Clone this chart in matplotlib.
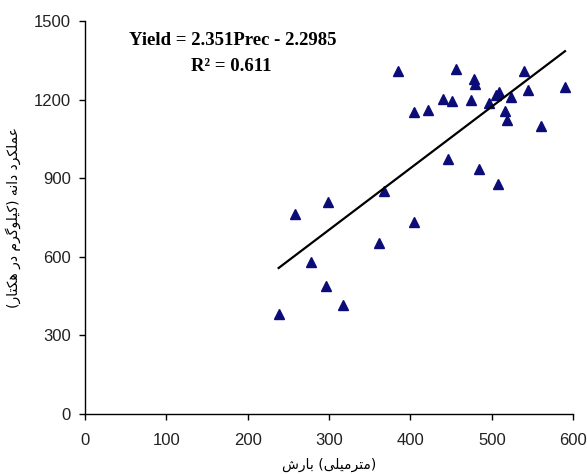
import matplotlib.pyplot as plt
import numpy as np

# precipitation (mm) and grain yield (kg/ha)
prec = [238, 258, 278, 296, 299, 317, 361, 368, 385, 405, 405, 421, 440, 446,
        451, 456, 474, 478, 479, 484, 496, 505, 509, 508, 523, 516, 519, 539,
        544, 560, 590]
grain_yield = [381, 763, 581, 489, 809, 415, 651, 852, 1309, 1151, 734, 1160,
               1202, 974, 1193, 1315, 1198, 1279, 1258, 935, 1186, 1217, 1230,
               877, 1211, 1156, 1122, 1310, 1237, 1099, 1249]

slope = 2.351
intercept = -2.2985
r2 = 0.611

x_ticks = [0, 100, 200, 300, 400, 500, 600]
y_ticks = [0, 300, 600, 900, 1200, 1500]

# persian labels, written with presentation forms in visual order
# (matplotlib does no arabic shaping on its own)
def vis(*codes):
    return ''.join(chr(c) for c in codes)

amalkard = vis(0xFEA9, 0xFEAE, 0xFB91, 0xFEE0, 0xFEE4, 0xFECB)
daneh = vis(0xFEEA, 0xFEE7, 0xFE8D, 0xFEA9)
kilogram = vis(0xFEE1, 0xFEAE, 0xFB94, 0xFEEE, 0xFEE0, 0xFEF4, 0xFB90)
dar = vis(0xFEAD, 0xFEA9)
hektar = vis(0xFEAD, 0xFE8E, 0xFE98, 0xFB91, 0xFEEB)
baresh = vis(0xFEB5, 0xFEAD, 0xFE8E, 0xFE91)
mili = vis(0xFEF0, 0xFEE0, 0xFEF4, 0xFEE3)
metr = vis(0xFEAE, 0xFE98, 0xFEE3)

ylabel = '(' + hektar + ' ' + dar + ' ' + kilogram + ') ' + daneh + ' ' + amalkard
xlabel = baresh + ' (' + mili + metr + ')'

tick_font = ['Liberation Sans Narrow', 'Liberation Sans', 'DejaVu Sans']

fig = plt.figure(figsize=(5.87, 4.74), dpi=100)
ax = fig.add_axes([0.1448, 0.1266, 0.8316, 0.8291])

ax.plot(prec, grain_yield, linestyle='none', marker='^', ms=6.5,
        color='#0c0c78', mec='#0c0c78')

xf = np.array([min(prec), max(prec)])
ax.plot(xf, slope * xf + intercept, color='black', lw=1.6)

ax.set_xlim(0, 600)
ax.set_ylim(0, 1500)
ax.set_xticks(x_ticks)
ax.set_yticks(y_ticks)
ax.set_xticklabels([str(t) for t in x_ticks], family=tick_font, fontsize=12)
ax.set_yticklabels([str(t) for t in y_ticks], family=tick_font, fontsize=12)
ax.tick_params(direction='out', length=4, width=1, labelcolor='#222222')
ax.tick_params(axis='x', pad=10)
ax.tick_params(axis='y', pad=6)

for s in ['top', 'right']:
    ax.spines[s].set_visible(False)
for s in ['left', 'bottom']:
    ax.spines[s].set_linewidth(1.0)

ax.set_xlabel(xlabel, family='DejaVu Sans', fontsize=10, labelpad=7)
ax.set_ylabel(ylabel, family='DejaVu Sans', fontsize=10, labelpad=9)

ax.text(182, 1427, 'Yield = 2.351Prec - 2.2985', family='Liberation Serif',
        fontweight='bold', fontsize=13.5, ha='center', va='center')
ax.text(180, 1328, 'R² = %.3f' % r2, family='Liberation Serif',
        fontweight='bold', fontsize=13.5, ha='center', va='center')

fig.savefig('out.png', dpi=100)
